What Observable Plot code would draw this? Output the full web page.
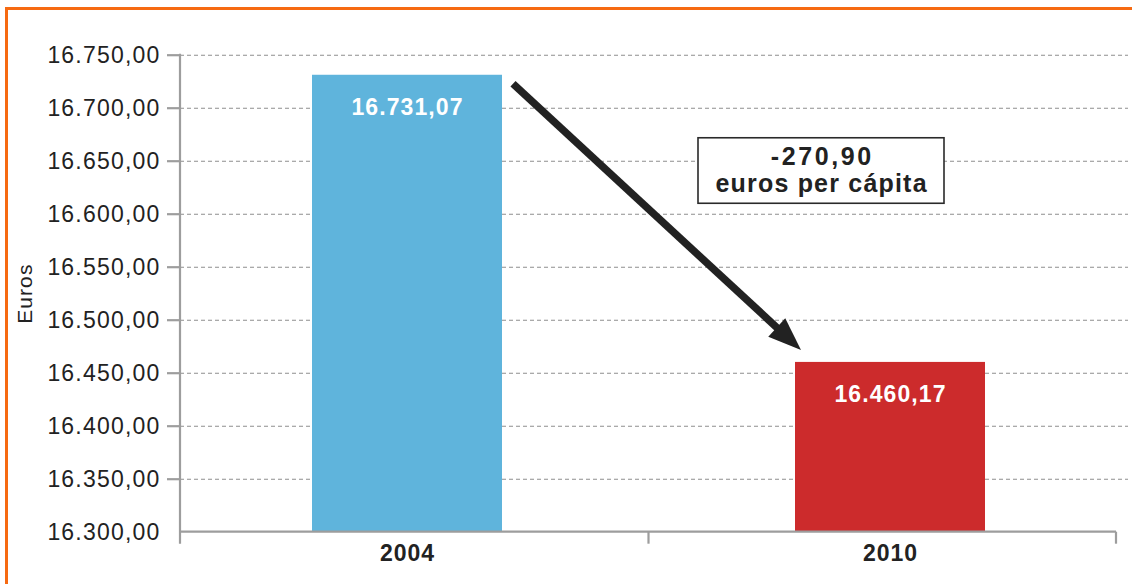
<!DOCTYPE html>
<html><head><meta charset="utf-8">
<script src="https://cdn.jsdelivr.net/npm/d3@7"></script>
<script src="https://cdn.jsdelivr.net/npm/@observablehq/plot@0.6"></script>
<style>
body{margin:0;background:#fff;}
#chart svg{display:block;font-family:"Liberation Sans",Arial,sans-serif;}
g[aria-label="y-axis tick label"] text{letter-spacing:1.2px;}
g[aria-label="x-axis tick label"] text{letter-spacing:1px;}
g[aria-label="text"] text{letter-spacing:1.1px;}
.note text{letter-spacing:1.2px;}
.note text.big{letter-spacing:2.6px;}
</style></head><body><div id="chart"></div>
<script>
// ---- data ----
const years = ["2004", "2010"];
const values = [16731.07, 16460.17];
const barColors = ["#5fb4dc", "#cc2b2c"];
const yTicks = [16300, 16350, 16400, 16450, 16500, 16550, 16600, 16650, 16700, 16750];
const yLabel = "Euros";
const noteUnit = "euros per cápita";

const locale = d3.formatLocale({decimal: ",", thousands: ".", grouping: [3], currency: ["", "€"], minus: "-"});
const fmt = locale.format(",.2f");
const data = years.map((year, i) => ({year, value: values[i], color: barColors[i]}));
const diffText = fmt(values[1] - values[0]);
const yMin = yTicks[0], yMax = yTicks[yTicks.length - 1];

function decorations(index, scales, vals, dims) {
  const x = scales.x, y = scales.y;
  const g = d3.create("svg:g");
  const [x0, x1] = x.range ? x.range() : [dims.marginLeft, dims.width - dims.marginRight];
  const bw = x.bandwidth ? x.bandwidth() : 190;
  const yb = y(yMin), yt = y(yMax);
  const axisColor = "#9d9d9d";
  // orange frame (left + top)
  g.append("path").attr("d", `M6.5,${dims.height}V8.5H${dims.width}`)
    .attr("fill", "none").attr("stroke", "#f66a12").attr("stroke-width", 3);
  // y axis line
  g.append("line").attr("x1", x0).attr("x2", x0).attr("y1", yt - 1).attr("y2", yb + 12)
    .attr("stroke", axisColor).attr("stroke-width", 2.2);
  // baseline
  g.append("line").attr("x1", x0).attr("x2", x1).attr("y1", yb).attr("y2", yb)
    .attr("stroke", axisColor).attr("stroke-width", 2.2);
  // x ticks at band boundaries
  const b1 = x(years[0]) + bw, b2 = x(years[1]);
  for (const tx of [(b1 + b2) / 2, x1]) {
    g.append("line").attr("x1", tx).attr("x2", tx).attr("y1", yb).attr("y2", yb + 12)
      .attr("stroke", axisColor).attr("stroke-width", 2.2);
  }
  // arrow from bar 2004 to bar 2010
  const sx = x(years[0]) + bw + 11, sy = y(values[0]) + 9;
  const ex = x(years[1]) + 6, ey = y(values[1]) - 12;
  const dx = ex - sx, dy = ey - sy, L = Math.hypot(dx, dy);
  const ux = dx / L, uy = dy / L, px = -uy, py = ux;
  const hl = 33, hw = 12.5;
  const bx = ex - ux * hl, by = ey - uy * hl;
  g.append("line").attr("x1", sx).attr("y1", sy).attr("x2", bx + ux * 4).attr("y2", by + uy * 4)
    .attr("stroke", "#222").attr("stroke-width", 7.5);
  g.append("path").attr("d", `M${ex},${ey}L${bx + px * hw},${by + py * hw}L${bx - px * hw},${by - py * hw}Z`)
    .attr("fill", "#222");
  // annotation box
  const boxL = x(years[1]) - 97, boxT = y(values[0]) + 63, boxW = 246, boxH = 65.5;
  const note = g.append("g").attr("class", "note");
  note.append("rect").attr("x", boxL).attr("y", boxT).attr("width", boxW).attr("height", boxH)
    .attr("fill", "white").attr("stroke", "#2a2a2a").attr("stroke-width", 1.6);
  note.append("text").attr("class", "big").attr("x", boxL + boxW / 2 + 1.3).attr("y", boxT + 27.5).attr("text-anchor", "middle")
    .attr("font-size", 25).attr("font-weight", "bold").attr("fill", "#222").text(diffText);
  note.append("text").attr("x", boxL + boxW / 2 + 0.6).attr("y", boxT + 54.5).attr("text-anchor", "middle")
    .attr("font-size", 25).attr("font-weight", "bold").attr("fill", "#222").text(noteUnit);
  return g.node();
}

const chart = Plot.plot({
  width: 1132,
  height: 584,
  marginLeft: 180,
  marginRight: 4,
  marginTop: 54.7,
  marginBottom: 52.3,
  style: {fontFamily: "'Liberation Sans', Arial, sans-serif", background: "white", overflow: "visible"},
  x: {domain: years, range: [180, 1116], paddingInner: 0.607, paddingOuter: 0.271, label: null},
  y: {domain: [yMin, yMax], label: null},
  color: {type: "identity"},
  marks: [
    Plot.gridY(yTicks.slice(1), {stroke: "#8f8f8f", strokeOpacity: 1, strokeWidth: 1.1, strokeDasharray: "4,3"}),
    Plot.barY(data, {x: "year", y1: yMin, y2: "value", fill: "color"}),
    decorations,
    Plot.axisY(yTicks.slice(1), {tickSize: 13, stroke: "#9d9d9d", strokeWidth: 2.2, tickFormat: () => "", label: null}),
    Plot.axisY(yTicks, {tickSize: 0, tickPadding: 20, tickFormat: fmt, fontSize: 23, fill: "#222", label: null}),
    Plot.axisX({tickSize: 0, tickPadding: 12, fontSize: 23, fontWeight: "bold", fill: "#222", label: null}),
    Plot.text(data, {x: "year", y: "value", text: d => fmt(d.value), dy: 32, fill: "white", fontSize: 23, fontWeight: "bold"}),
    Plot.text([yLabel], {frameAnchor: "left", textAnchor: "middle", dx: -155, rotate: -90, fontSize: 21, fill: "#222"})
  ]
});
document.getElementById("chart").append(chart);
</script></body></html>
